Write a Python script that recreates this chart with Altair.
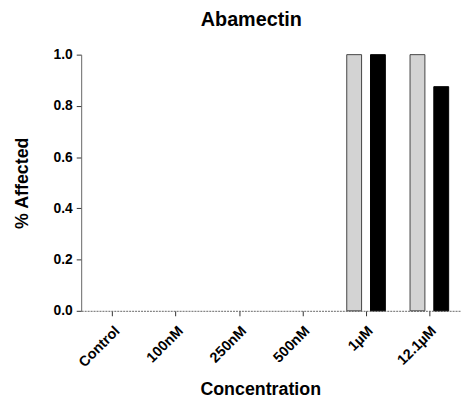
import altair as alt
import pandas as pd

categories = ["Control", "100nM", "250nM", "500nM", "1µM", "12.1µM"]
series_names = ["Series A", "Series B"]
series_a = [0, 0, 0, 0, 1.0, 1.0]
series_b = [0, 0, 0, 0, 1.0, 0.875]

rows = []
for c, a, b in zip(categories, series_a, series_b):
    rows.append({"Concentration": c, "Series": series_names[0], "Value": a})
    rows.append({"Concentration": c, "Series": series_names[1], "Value": b})
df = pd.DataFrame(rows)

FONT = "Liberation Sans"

chart = alt.Chart(df).transform_filter("datum.Value > 0").mark_bar(strokeWidth=1).encode(
    x=alt.X("Concentration:N", sort=categories,
            scale=alt.Scale(domain=categories, paddingInner=0.39, paddingOuter=0.195),
            axis=alt.Axis(title="Concentration", labelAngle=-45, labelFontWeight="bold",
                          labelFontSize=14.5, labelColor="#000", titleFontSize=18,
                          titleFontWeight="bold", titleColor="#000",
                          titleBaseline="alphabetic", titleY=85, titleX=181,
                          titleAlign="center",
                          tickColor="#333", domainColor="#666", domainDash=[2, 1],
                          tickSize=5, labelPadding=8)),
    xOffset=alt.XOffset("Series:N", sort=series_names,
                        scale=alt.Scale(domain=series_names, paddingInner=0.375, paddingOuter=0)),
    y=alt.Y("Value:Q", scale=alt.Scale(domain=[0, 1.0], nice=False),
            axis=alt.Axis(title="% Affected", values=[0, 0.2, 0.4, 0.6, 0.8, 1.0],
                          format=".1f", grid=False, labelFontWeight="bold",
                          labelFontSize=14, labelColor="#000", titleFontSize=18,
                          titleFontWeight="bold", titleColor="#000",
                          titleX=-59, titleY=129.5, titleBaseline="middle",
                          tickColor="#333", domainColor="#666", tickSize=5, labelPadding=4)),
    color=alt.Color("Series:N", sort=series_names,
                    scale=alt.Scale(domain=series_names, range=["#d3d3d3", "#000000"]),
                    legend=None),
    stroke=alt.Stroke("Series:N", sort=series_names,
                      scale=alt.Scale(domain=series_names, range=["#444444", "#000000"]),
                      legend=None),
).properties(
    width=384, height=259,
    title=alt.TitleParams("Abamectin", fontSize=20, fontWeight="bold", color="#000",
                          anchor="middle", frame="group", dx=-20, offset=18),
    autosize=alt.AutoSizeParams(type="none"),
    padding={"left": 74, "top": 45, "right": 0, "bottom": 87},
).configure(font=FONT).configure_view(stroke=None)

chart.save("out.html", embed_options={"renderer": "svg", "actions": False})
